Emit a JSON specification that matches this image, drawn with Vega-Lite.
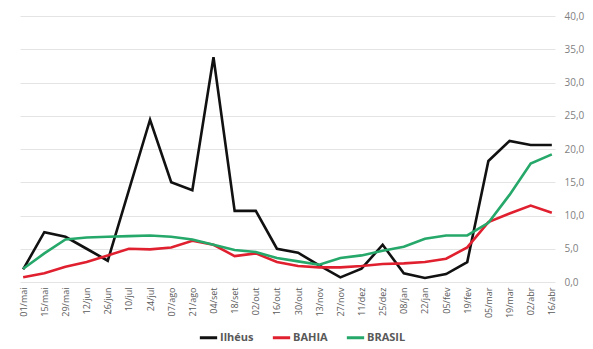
{
  "$schema": "https://vega.github.io/schema/vega-lite/v6.json",
  "width": 535,
  "height": 266,
  "autosize": "none",
  "padding": {"left": 20, "top": 16, "right": 38, "bottom": 67},
  "background": "#ffffff",
  "config": {
    "view": {"stroke": null},
    "font": "Open Sans"
  },
  "data": {
    "values": [
      {"d": "01/mai", "s": "Ilhéus", "v": 1.9}, {"d": "15/mai", "s": "Ilhéus", "v": 7.5}, {"d": "29/mai", "s": "Ilhéus", "v": 6.8}, {"d": "12/jun", "s": "Ilhéus", "v": 5.0}, {"d": "26/jun", "s": "Ilhéus", "v": 3.2}, {"d": "10/jul", "s": "Ilhéus", "v": 13.8}, {"d": "24/jul", "s": "Ilhéus", "v": 24.4}, {"d": "07/ago", "s": "Ilhéus", "v": 15.0}, {"d": "21/ago", "s": "Ilhéus", "v": 13.8}, {"d": "04/set", "s": "Ilhéus", "v": 33.8}, {"d": "18/set", "s": "Ilhéus", "v": 10.7}, {"d": "02/out", "s": "Ilhéus", "v": 10.7}, {"d": "16/out", "s": "Ilhéus", "v": 5.0}, {"d": "30/out", "s": "Ilhéus", "v": 4.4}, {"d": "13/nov", "s": "Ilhéus", "v": 2.5}, {"d": "27/nov", "s": "Ilhéus", "v": 0.7}, {"d": "11/dez", "s": "Ilhéus", "v": 2.0}, {"d": "25/dez", "s": "Ilhéus", "v": 5.6}, {"d": "08/jan", "s": "Ilhéus", "v": 1.3}, {"d": "22/jan", "s": "Ilhéus", "v": 0.6}, {"d": "05/fev", "s": "Ilhéus", "v": 1.2}, {"d": "19/fev", "s": "Ilhéus", "v": 3.0}, {"d": "05/mar", "s": "Ilhéus", "v": 18.2}, {"d": "19/mar", "s": "Ilhéus", "v": 21.2}, {"d": "02/abr", "s": "Ilhéus", "v": 20.6}, {"d": "16/abr", "s": "Ilhéus", "v": 20.6},
      {"d": "01/mai", "s": "BAHIA", "v": 0.7}, {"d": "15/mai", "s": "BAHIA", "v": 1.3}, {"d": "29/mai", "s": "BAHIA", "v": 2.3}, {"d": "12/jun", "s": "BAHIA", "v": 3.0}, {"d": "26/jun", "s": "BAHIA", "v": 4.0}, {"d": "10/jul", "s": "BAHIA", "v": 5.0}, {"d": "24/jul", "s": "BAHIA", "v": 4.9}, {"d": "07/ago", "s": "BAHIA", "v": 5.2}, {"d": "21/ago", "s": "BAHIA", "v": 6.2}, {"d": "04/set", "s": "BAHIA", "v": 5.6}, {"d": "18/set", "s": "BAHIA", "v": 3.9}, {"d": "02/out", "s": "BAHIA", "v": 4.3}, {"d": "16/out", "s": "BAHIA", "v": 3.0}, {"d": "30/out", "s": "BAHIA", "v": 2.4}, {"d": "13/nov", "s": "BAHIA", "v": 2.2}, {"d": "27/nov", "s": "BAHIA", "v": 2.2}, {"d": "11/dez", "s": "BAHIA", "v": 2.4}, {"d": "25/dez", "s": "BAHIA", "v": 2.7}, {"d": "08/jan", "s": "BAHIA", "v": 2.8}, {"d": "22/jan", "s": "BAHIA", "v": 3.0}, {"d": "05/fev", "s": "BAHIA", "v": 3.5}, {"d": "19/fev", "s": "BAHIA", "v": 5.2}, {"d": "05/mar", "s": "BAHIA", "v": 9.0}, {"d": "19/mar", "s": "BAHIA", "v": 10.3}, {"d": "02/abr", "s": "BAHIA", "v": 11.5}, {"d": "16/abr", "s": "BAHIA", "v": 10.4},
      {"d": "01/mai", "s": "BRASIL", "v": 2.0}, {"d": "15/mai", "s": "BRASIL", "v": 4.3}, {"d": "29/mai", "s": "BRASIL", "v": 6.4}, {"d": "12/jun", "s": "BRASIL", "v": 6.7}, {"d": "26/jun", "s": "BRASIL", "v": 6.8}, {"d": "10/jul", "s": "BRASIL", "v": 6.9}, {"d": "24/jul", "s": "BRASIL", "v": 7.0}, {"d": "07/ago", "s": "BRASIL", "v": 6.8}, {"d": "21/ago", "s": "BRASIL", "v": 6.4}, {"d": "04/set", "s": "BRASIL", "v": 5.6}, {"d": "18/set", "s": "BRASIL", "v": 4.8}, {"d": "02/out", "s": "BRASIL", "v": 4.5}, {"d": "16/out", "s": "BRASIL", "v": 3.6}, {"d": "30/out", "s": "BRASIL", "v": 3.1}, {"d": "13/nov", "s": "BRASIL", "v": 2.6}, {"d": "27/nov", "s": "BRASIL", "v": 3.6}, {"d": "11/dez", "s": "BRASIL", "v": 4.0}, {"d": "25/dez", "s": "BRASIL", "v": 4.7}, {"d": "08/jan", "s": "BRASIL", "v": 5.3}, {"d": "22/jan", "s": "BRASIL", "v": 6.5}, {"d": "05/fev", "s": "BRASIL", "v": 7.0}, {"d": "19/fev", "s": "BRASIL", "v": 7.0}, {"d": "05/mar", "s": "BRASIL", "v": 8.9}, {"d": "19/mar", "s": "BRASIL", "v": 13.1}, {"d": "02/abr", "s": "BRASIL", "v": 17.8}, {"d": "16/abr", "s": "BRASIL", "v": 19.2}
    ]
  },
  "mark": {"type": "line", "strokeWidth": 2.6, "strokeJoin": "miter"},
  "encoding": {
    "x": {
      "field": "d",
      "type": "ordinal",
      "sort": null,
      "scale": {"type": "point", "padding": 0.15},
      "axis": {
        "title": null,
        "labelAngle": -90,
        "labelFontSize": 9,
        "labelColor": "#595959",
        "labelPadding": 5,
        "ticks": false,
        "domain": false,
        "grid": false
      }
    },
    "y": {
      "field": "v",
      "type": "quantitative",
      "scale": {"domain": [0, 40]},
      "axis": {
        "title": null,
        "orient": "right",
        "values": [0, 5, 10, 15, 20, 25, 30, 35, 40],
        "labelExpr": "replace(format(datum.value, '.1f'), '.', ',')",
        "labelFontSize": 10,
        "labelColor": "#7f7f7f",
        "labelPadding": 9,
        "ticks": false,
        "domain": false,
        "grid": true,
        "gridColor": "#e4e4e4",
        "gridWidth": 1
      }
    },
    "color": {
      "field": "s",
      "type": "nominal",
      "scale": {"domain": ["Ilhéus", "BAHIA", "BRASIL"], "range": ["#111111", "#e0202f", "#25a86a"]},
      "legend": {
        "title": null,
        "orient": "none",
        "direction": "horizontal",
        "legendX": 178,
        "legendY": 311,
        "symbolType": "stroke",
        "symbolStrokeWidth": 3,
        "symbolSize": 300,
        "labelFontSize": 11,
        "labelFontWeight": "bold",
        "labelColor": "#595959",
        "labelOffset": 1,
        "columnPadding": 12
      }
    },
    "order": {"field": "s", "type": "nominal"}
  }
}
